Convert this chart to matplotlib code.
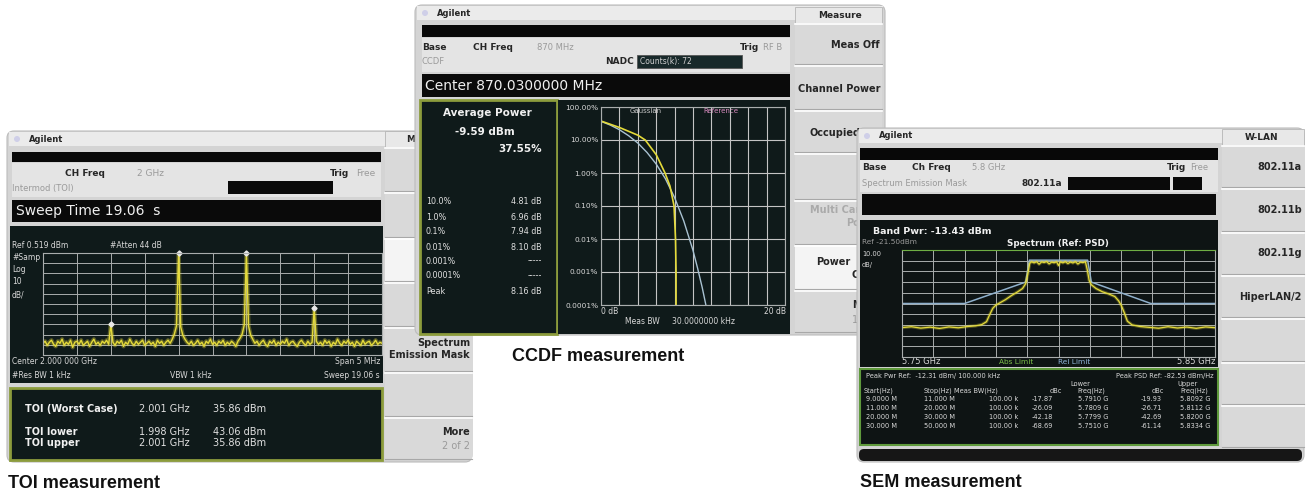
import matplotlib

matplotlib.use("Agg")  # headless
import matplotlib.pyplot as plt
import numpy as np
from matplotlib.patches import Circle, FancyBboxPatch, Rectangle
from matplotlib.ticker import NullFormatter, NullLocator

W, H = 1307, 492

# ---------------------------------------------------------------- data
# TOI: 161 sweep points across the 5 MHz span (dBm), ref 0.519 dBm, 10 dB/div
toi_trace = [
    -88, -86, -90, -87, -85, -89, -91, -86, -88, -84, -90, -87, -89, -85, -92, -87,
    -86, -89, -85, -90, -88, -86, -91, -87, -84, -89, -87, -90, -86, -88, -85, -89,
    -69.5,
    -87, -90, -86, -88, -85, -91, -87, -89, -84, -88, -90, -86, -89, -87, -85,
    -90, -88, -86, -89, -87, -91, -85, -88, -86, -90, -87, -85, -88,
    -84, -79, -71, 0.5, -72, -80, -84,
    -87, -89, -86, -90, -88, -85, -89, -87, -91, -86, -88, -84, -89, -87, -90,
    -86, -88, -85, -90, -87, -89, -86, -88, -91, -86,
    -83, -79, -70, 0.5, -71, -80, -84,
    -88, -86, -90, -87, -85, -89, -91, -86, -88, -85, -90, -87, -89, -86, -88,
    -84, -90, -87, -86, -89, -91, -87, -85, -88, -90, -86, -89, -87,
    -53.5,
    -86, -89, -87, -90, -85, -88, -86, -91, -87, -89, -84, -88, -90, -86, -88, -85,
    -89, -87, -91, -86, -88, -90, -85, -89, -87, -86, -90, -88, -85, -89, -87, -88,
]
toi_marker_mhz = [-1.5, -0.5, 0.5, 1.5]
toi_marker_dbm = [-69.5, 0.5, 0.5, -53.5]
toi_rows = ["TOI (Worst Case)", "TOI lower", "TOI upper"]
toi_freqs = ["2.001 GHz", "1.998 GHz", "2.001 GHz"]
toi_levels = ["35.86 dBm", "43.06 dBm", "35.86 dBm"]

# CCDF: probability (%) versus dB above average power
ccdf_gauss_db = [0, 1, 2, 3, 4, 5, 6, 7, 8, 9, 10, 10.5, 11, 11.4]
ccdf_gauss_pct = [36.8, 28.4, 20.5, 13.5, 8.1, 4.2, 1.87, 0.67, 0.18, 0.035,
                  0.0045, 0.0013, 0.00034, 0.0001]
ccdf_meas_db = [0, 2, 4, 4.81, 6, 6.96, 7.5, 7.94, 8.10, 8.16, 8.16]
ccdf_meas_pct = [37.55, 24, 14, 10, 3.6, 1.0, 0.4, 0.1, 0.01, 0.001, 0.0001]
ccdf_ticks = [1e-4, 1e-3, 1e-2, 1e-1, 1, 10, 100]
ccdf_tick_labels = ["0.0001%", "0.001%", "0.01%", "0.10%", "1.00%", "10.00%", "100.00%"]
ccdf_probs = ["10.0%", "1.0%", "0.1%", "0.01%", "0.001%", "0.0001%", "Peak"]
ccdf_values = ["4.81 dB", "6.96 dB", "7.94 dB", "8.10 dB", "-----", "-----", "8.16 dB"]

# SEM: offset from 5.80 GHz (MHz) and level (dBm), ref -21.50 dBm, 10 dB/div
sem_mhz = [-50, -47, -44, -41, -38, -35, -32, -29, -26.5, -24.5, -23, -22, -21,
           -20, -18.5, -17, -15, -13, -11.5, -10.5, -9.8, -9.2, -8.6, -7.8, -7,
           -6.2, -5.4, -4.6, -3.8, -3, -2.2, -1.4, -0.6, 0, 0.6, 1.4, 2.2, 3,
           3.8, 4.6, 5.4, 6.2, 7, 7.8, 8.6, 9.2, 9.8, 10.5, 12, 14, 16, 18,
           19.2, 20, 21, 22, 23.5, 26, 29, 32, 35, 38, 41, 44, 47, 50]
sem_dbm = [-94.0, -93.2, -94.5, -93.6, -94.8, -93.4, -94.2, -93.0, -92.4, -91.2,
           -88.5, -82, -76, -73, -70.5, -68, -64, -60.5, -57.5, -53, -44, -34,
           -32.5, -33.5, -32.4, -34.8, -32.6, -33.2, -32.3, -34.5, -32.8, -33.4,
           -32.5, -36, -32.6, -33.5, -32.4, -34.2, -32.7, -33.6, -32.4, -34.6,
           -32.8, -33.3, -32.5, -40, -50, -54, -57.5, -60.5, -62.5, -65, -69,
           -73, -80, -88, -91.5, -93, -93.8, -94.6, -93.2, -94.4, -93.5, -94.7,
           -93.4, -94.1]
sem_limit_mhz = [-50, -30, -10.5, -9.3, 9.3, 10.5, 29.5, 50]
sem_limit_dbm = [-71.5, -71.5, -51.5, -31, -31, -51.5, -71.5, -71.5]
sem_start = ["9.0000 M", "11.000 M", "20.000 M", "30.000 M"]
sem_stop = ["11.000 M", "20.000 M", "30.000 M", "50.000 M"]
sem_bw = ["100.00 k", "100.00 k", "100.00 k", "100.00 k"]
sem_low_dbc = ["-17.87", "-26.09", "-42.18", "-68.69"]
sem_low_freq = ["5.7910 G", "5.7809 G", "5.7799 G", "5.7510 G"]
sem_up_dbc = ["-19.93", "-26.71", "-42.69", "-61.14"]
sem_up_freq = ["5.8092 G", "5.8112 G", "5.8200 G", "5.8334 G"]

# ---------------------------------------------------------------- style
SCREEN = "DejaVu Sans"
DARK = "#0f1a1a"
OLIVE = "#8c9c3c"
GRIDC = "#a9adad"
YEL = "#e4da3a"
BODY = "#d4d4d4"
INFO = "#e4e4e4"
KEY = "#d9d9d9"
KEY_ON = "#f4f4f4"
INK = "#262626"
GREY = "#9a9a9a"
LT = "#d8d8d8"

fig = plt.figure(figsize=(W / 100, H / 100), dpi=100)
fig.patch.set_facecolor("white")
bg = fig.add_axes([0, 0, 1, 1])
bg.set_xlim(0, W)
bg.set_ylim(H, 0)
bg.axis("off")


def box(x0, y0, x1, y1, fc, z, ec="none", lw=0, r=0):
    if r:
        p = FancyBboxPatch((x0, y0), x1 - x0, y1 - y0,
                           boxstyle=f"round,pad=0,rounding_size={r}",
                           fc=fc, ec=ec, lw=lw, zorder=z)
    else:
        p = Rectangle((x0, y0), x1 - x0, y1 - y0, fc=fc, ec=ec, lw=lw, zorder=z)
    bg.add_patch(p)


def txt(x, y, s, z, size=6, color=INK, weight="normal", ha="left"):
    bg.text(x, y, s, fontsize=size, color=color, fontweight=weight, ha=ha,
            va="center", zorder=z, family=SCREEN)


def window(x0, y0, x1, y1, z):
    box(x0, y0, x1, y1, BODY, z, ec="#bcbcbc", lw=0.8, r=7)
    box(x0 + 2, y0 + 1, x1 - 2, y0 + 15, "#ebebeb", z + 0.1)
    bg.add_patch(Circle((x0 + 10, y0 + 8), 3, fc="#cfcfe8", ec="none", zorder=z + 0.2))
    txt(x0 + 22, y0 + 8, "Agilent", z + 0.3, size=6, weight="bold")


def softkeys(x0, x1, seps, header, hx, labels, active, z):
    box(x0, seps[0] - 16, x1, seps[0], "#e8e8e8", z, ec="#b5b5b5", lw=0.6)
    txt(hx, seps[0] - 8, header, z + 0.3, size=6.5, weight="bold", ha="center")
    for i, (a, b) in enumerate(zip(seps[:-1], seps[1:])):
        box(x0, a, x1, b, KEY_ON if i == active else KEY, z)
        bg.plot([x0, x1], [a + 1, a + 1], color="white", lw=1.2, zorder=z + 0.1)
        bg.plot([x0, x1], [b - 1, b - 1], color="#a8a8a8", lw=0.8, zorder=z + 0.1)
    for y, s, color, weight in labels:
        txt(x1 - 2, y, s, z + 0.3, size=7, color=color, weight=weight, ha="right")


def inset(x0, y0, x1, y1):
    ax = fig.add_axes([x0 / W, 1 - y1 / H, (x1 - x0) / W, (y1 - y0) / H], zorder=5)
    ax.set_facecolor("none")
    ax.tick_params(length=0, labelbottom=False, labelleft=False)
    ax.xaxis.set_major_formatter(NullFormatter())
    ax.yaxis.set_major_formatter(NullFormatter())
    for s in ax.spines.values():
        s.set_color(GRIDC)
        s.set_linewidth(0.8)
    ax.grid(True, color=GRIDC, lw=0.7)
    return ax


# ================================================================ TOI window
z = 1
window(7, 131, 472, 462, z)
softkeys(385, 472, [147, 192, 238, 282, 327, 372, 417, 460], "Measure", 428,
         [(343, "Spectrum", INK, "bold"), (355, "Emission Mask", INK, "bold"),
          (432, "More", INK, "bold"), (446, "2 of 2", GREY, "normal")], 2, z + 0.5)
box(12, 152, 381, 162, "#080808", z + 0.5)
box(12, 163, 381, 197, INFO, z + 0.5)
txt(65, 174, "CH Freq", z + 1, size=6.5, weight="bold")
txt(137, 174, "2 GHz", z + 1, size=6.5, color=GREY)
txt(330, 174, "Trig", z + 1, size=6.5, weight="bold")
txt(356, 174, "Free", z + 1, size=6.5, color=GREY)
txt(12, 189, "Intermod (TOI)", z + 1, size=6, color=GREY)
box(228, 181, 333, 194, "#0a0a0a", z + 0.6)
box(12, 200, 381, 222, "#0a0a0a", z + 0.5)
txt(16, 211, "Sweep Time 19.06  s", z + 1, size=10, color="#f0f0f0")
box(10, 226, 383, 383, DARK, z + 0.5)
txt(12, 245, "Ref 0.519 dBm", z + 1, size=5.5, color=LT)
txt(110, 245, "#Atten 44 dB", z + 1, size=5.5, color=LT)
for y, s in zip([257, 270, 282, 295], ["#Samp", "Log", "10", "dB/"]):
    txt(12, y, s, z + 1, size=5.5, color=LT)
txt(12, 362, "Center 2.000 000 GHz", z + 1, size=5.5, color=LT)
txt(380, 362, "Span 5 MHz", z + 1, size=5.5, color=LT, ha="right")
txt(12, 376, "#Res BW 1 kHz", z + 1, size=5.5, color=LT)
txt(170, 376, "VBW 1 kHz", z + 1, size=5.5, color=LT)
txt(380, 376, "Sweep 19.06 s", z + 1, size=5.5, color=LT, ha="right")
box(10, 388, 382, 460, DARK, z + 0.5, ec=OLIVE, lw=2)
for y, name, f, lv in zip([409, 432, 443], toi_rows, toi_freqs, toi_levels):
    txt(25, y, name, z + 1, size=7, color="#f0f0f0", weight="bold")
    txt(139, y, f, z + 1, size=7, color="#e0e0e0")
    txt(213, y, lv, z + 1, size=7, color="#e0e0e0")

ax1 = inset(43, 253, 382, 355)
ax1.set_xlim(-2.5, 2.5)
ax1.set_ylim(-99.481, 0.519)
ax1.set_xticks(np.linspace(-2.5, 2.5, 11))
ax1.set_yticks(np.linspace(-99.481, 0.519, 11))
f1 = np.linspace(-2.5, 2.5, len(toi_trace))
ax1.plot(f1, toi_trace, color=YEL, lw=3.0, alpha=0.35)
ax1.plot(f1, toi_trace, color=YEL, lw=1.0)
ax1.plot(toi_marker_mhz, toi_marker_dbm, "D", ms=2.6, color="#e8e8e8", clip_on=False)

# ================================================================ CCDF window
z = 10
window(415, 5, 885, 335, z)
softkeys(795, 882, [23, 65, 110, 153, 200, 245, 290, 333], "Measure", 840,
         [(45, "Meas Off", INK, "bold"), (89, "Channel Power", INK, "bold"),
          (210, "Multi Carrier", "#aaaaaa", "bold"),
          (305, "More", INK, "bold"), (320, "1 of 2", GREY, "normal")], 5, z + 0.5)
# keys partly hidden behind the SEM window: only their visible part
txt(810, 133, "Occupied", z + 1, size=7, weight="bold")
txt(846, 223, "Po", z + 1, size=7, color="#aaaaaa", weight="bold")
txt(816, 262, "Power", z + 1, size=7, weight="bold")
txt(851, 275, "C", z + 1, size=7, weight="bold")
box(422, 25, 790, 37, "#080808", z + 0.5)
box(422, 38, 790, 72, INFO, z + 0.5)
txt(422, 48, "Base", z + 1, size=6.5, weight="bold")
txt(473, 48, "CH Freq", z + 1, size=6.5, weight="bold")
txt(537, 48, "870 MHz", z + 1, size=6, color=GREY)
txt(740, 48, "Trig", z + 1, size=6.5, weight="bold")
txt(763, 48, "RF B", z + 1, size=6, color=GREY)
txt(422, 62, "CCDF", z + 1, size=6, color=GREY)
txt(605, 62, "NADC", z + 1, size=6.5, weight="bold")
box(637, 55, 742, 68, "#18292a", z + 0.6, ec="#555555", lw=0.6)
txt(640, 61.5, "Counts(k): 72", z + 1, size=5.5, color="#d0d0d0")
box(422, 74, 790, 97, "#0a0a0a", z + 0.5)
txt(425, 85.5, "Center 870.0300000 MHz", z + 1, size=10, color="#f0f0f0")
box(420, 100, 557, 334, DARK, z + 0.5, ec=OLIVE, lw=2)
box(558, 100, 790, 334, DARK, z + 0.5)
txt(487, 113, "Average Power", z + 1, size=7.5, color="#f0f0f0", weight="bold", ha="center")
txt(485, 132, "-9.59 dBm", z + 1, size=7.5, color="#f0f0f0", weight="bold", ha="center")
txt(542, 149, "37.55%", z + 1, size=7.5, color="#f0f0f0", weight="bold", ha="right")
for y, p, v in zip([202, 217, 232, 247, 261, 276, 291], ccdf_probs, ccdf_values):
    txt(426, y, p, z + 1, size=5.8, color="#e0e0e0")
    txt(542, y, v, z + 1, size=5.8, color="#e0e0e0", ha="right")
txt(601, 312, "0 dB", z + 1, size=5.5, color=LT)
txt(786, 312, "20 dB", z + 1, size=5.5, color=LT, ha="right")
txt(625, 322, "Meas BW", z + 1, size=5.5, color=LT)
txt(672, 322, "30.0000000 kHz", z + 1, size=5.5, color=LT)
txt(630, 111, "Gaussian", z + 1, size=5, color="#c8c8c8")
txt(703, 111, "Reference", z + 1, size=5, color="#d98cc0")

ax2 = inset(601, 107, 785, 305)
ax2.set_yscale("log")
ax2.set_xlim(0, 20)
ax2.set_ylim(1e-4, 100)
ax2.set_xticks(np.arange(0, 21, 2))
ax2.set_yticks(ccdf_ticks)
ax2.set_yticklabels(ccdf_tick_labels)
ax2.yaxis.set_minor_locator(NullLocator())
ax2.tick_params(labelleft=True, labelsize=5.3, labelcolor=LT, pad=2)
ax2.grid(True, color="#c4c4c4", lw=0.8)
ax2.plot(ccdf_gauss_db, ccdf_gauss_pct, color="#a9c2d2", lw=1.0)
ax2.plot(ccdf_meas_db, ccdf_meas_pct, color=YEL, lw=1.2)

# ================================================================ SEM window (top)
z = 20
window(857, 128, 1304, 462, z)
softkeys(1222, 1304, [145, 188, 232, 275, 318, 362, 405, 448], "W-LAN", 1262,
         [(167, "802.11a", INK, "bold"), (210, "802.11b", INK, "bold"),
          (253, "802.11g", INK, "bold"), (297, "HiperLAN/2", INK, "bold")], -1, z + 0.5)
box(860, 148, 1218, 160, "#080808", z + 0.5)
box(860, 160, 1218, 192, INFO, z + 0.5)
txt(862, 167, "Base", z + 1, size=6.5, weight="bold")
txt(912, 167, "Ch Freq", z + 1, size=6.5, weight="bold")
txt(972, 167, "5.8 GHz", z + 1, size=6, color=GREY)
txt(1167, 167, "Trig", z + 1, size=6.5, weight="bold")
txt(1190, 167, "Free", z + 1, size=6, color=GREY)
txt(862, 184, "Spectrum Emission Mask", z + 1, size=6, color=GREY)
txt(1022, 184, "802.11a", z + 1, size=6.5, weight="bold")
box(1068, 177, 1170, 190, "#0a0a0a", z + 0.6)
box(1173, 177, 1202, 190, "#0a0a0a", z + 0.6)
box(862, 194, 1216, 215, "#0a0a0a", z + 0.5)
box(860, 220, 1218, 367, "#0e1414", z + 0.5)
txt(873, 231, "Band Pwr: -13.43 dBm", z + 1, size=6.8, color="#f0f0f0", weight="bold")
txt(862, 242, "Ref -21.50dBm", z + 1, size=5.3, color="#9a9a9a")
txt(1058, 243, "Spectrum (Ref: PSD)", z + 1, size=6.3, color="#f0f0f0", weight="bold", ha="center")
txt(862, 254, "10.00", z + 1, size=4.8, color=LT)
txt(862, 265, "dB/", z + 1, size=4.8, color=LT)
txt(902, 362, "5.75 GHz", z + 1, size=6, color=LT)
txt(999, 362, "Abs Limit", z + 1, size=5.3, color="#7cc04a")
txt(1058, 362, "Rel Limit", z + 1, size=5.3, color="#8fb4d8")
txt(1215, 362, "5.85 GHz", z + 1, size=6, color=LT, ha="right")
box(860, 369, 1218, 445, "#0e1414", z + 0.5, ec="#5f9a3c", lw=1.5)
txt(866, 376, "Peak Pwr Ref:  -12.31 dBm/ 100.000 kHz", z + 1, size=4.8, color=LT)
txt(1214, 376, "Peak PSD Ref: -82.53 dBm/Hz", z + 1, size=4.8, color=LT, ha="right")
txt(1070, 384, "Lower", z + 1, size=4.8, color=LT)
txt(1177, 384, "Upper", z + 1, size=4.8, color=LT)
for x, s, ha in [(864, "Start(Hz)", "left"), (924, "Stop(Hz)", "left"),
                 (954, "Meas BW(Hz)", "left"), (1062, "dBc", "right"),
                 (1077, "Freq(Hz)", "left"), (1164, "dBc", "right"),
                 (1180, "Freq(Hz)", "left")]:
    txt(x, 391, s, z + 1, size=4.8, color=LT, ha=ha)
for i, y in enumerate([399, 408, 417, 426]):
    txt(866, y, sem_start[i], z + 1, size=4.8, color=LT)
    txt(924, y, sem_stop[i], z + 1, size=4.8, color=LT)
    txt(1018, y, sem_bw[i], z + 1, size=4.8, color=LT, ha="right")
    txt(1053, y, sem_low_dbc[i], z + 1, size=4.8, color=LT, ha="right")
    txt(1078, y, sem_low_freq[i], z + 1, size=4.8, color=LT)
    txt(1162, y, sem_up_dbc[i], z + 1, size=4.8, color=LT, ha="right")
    txt(1180, y, sem_up_freq[i], z + 1, size=4.8, color=LT)
box(859, 449, 1302, 461, "#161616", z + 0.5, r=5)

ax3 = inset(902, 250, 1215, 357)
ax3.set_xlim(-50, 50)
ax3.set_ylim(-121.5, -21.5)
ax3.set_xticks(np.linspace(-50, 50, 11))
ax3.set_yticks(np.linspace(-121.5, -21.5, 11))
ax3.spines["top"].set_color("#6fae44")
ax3.plot(sem_limit_mhz, sem_limit_dbm, color="#8fb0cc", lw=1.1)
ax3.plot(sem_mhz, sem_dbm, color=YEL, lw=2.4, alpha=0.3)
ax3.plot(sem_mhz, sem_dbm, color=YEL, lw=0.9)

# ================================================================ captions
cap = dict(fontsize=13, fontweight="bold", color="#111111", va="baseline",
           family=["Liberation Sans", "DejaVu Sans"], zorder=30)
bg.text(8, 488, "TOI measurement", **cap)
bg.text(512, 361, "CCDF measurement", **cap)
bg.text(860, 487, "SEM measurement", **cap)

fig.savefig("out.png", dpi=100)
